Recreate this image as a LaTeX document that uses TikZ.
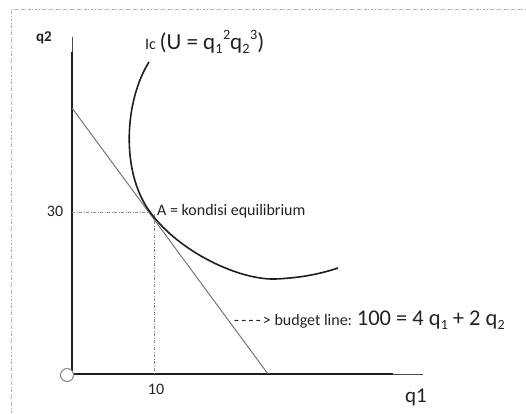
\documentclass[tikz,border=0pt]{standalone}
\usepackage{fontspec}
\setmainfont{Carlito}
\usepackage{graphicx}
\newcommand\lsub[1]{\raisebox{-0.35ex}{\scalebox{0.62}{#1}}}
\newcommand\lsup[1]{\raisebox{0.95ex}{\scalebox{0.62}{#1}}}
\definecolor{txt}{HTML}{222222}
\definecolor{axis}{HTML}{1E1E1E}
\definecolor{bline}{HTML}{6A6A6A}
\definecolor{guide}{HTML}{8C8C8C}
\definecolor{frame}{HTML}{AFAFAF}
\tikzset{
  lbl/.style={inner sep=0pt, text=txt, font=\fontsize{16}{19}\selectfont},
  biglbl/.style={inner sep=0pt, text=txt, font=\fontsize{21}{25}\selectfont},
  axisthick/.style={draw=axis, line width=1.6pt},
  axisthin/.style={draw=axis!80, line width=0.8pt},
  budget/.style={draw=bline, line width=0.9pt},
  icurve/.style={draw=axis, line width=1.6pt},
  guideline/.style={draw=guide, line width=0.7pt, dash pattern=on 3pt off 1.5pt on 1pt off 1.5pt},
  framestyle/.style={draw=frame, line width=0.8pt, dash pattern=on 3pt off 1.5pt on 1pt off 1.5pt},
}
\begin{document}
\begin{tikzpicture}[x=1pt,y=-1pt]
\useasboundingbox (0,0) rectangle (526,413);
\fill[white] (0,0) rectangle (526,413);
% frame (top and left visible)
\coordinate (f1) at (11,9.5);
\coordinate (f2) at (526,9.5);
\coordinate (f3) at (11,413);
\draw[framestyle] (f3) -- (f1) -- (f2);
% axes
\coordinate (O) at (72,374);
\coordinate (ytop) at (72,37);
\coordinate (ymid) at (72,52);
\coordinate (xmid) at (393,374);
\coordinate (xend) at (423,374);
\draw[axisthin] (ytop) -- (ymid);
\draw[axisthick] (ymid) -- (O) -- (xmid);
\draw[axisthin] (xmid) -- (xend);
% budget line
\coordinate (b1) at (72,108);
\coordinate (b2) at (268,374);
\draw[budget] (b1) -- (b2);
% equilibrium point and guides
\coordinate (A) at (150,212);
\coordinate (y30) at (72,212.5);
\coordinate (g30) at (150,212.5);
\coordinate (v10) at (154,214);
\coordinate (x10) at (154,374);
\draw[guideline] (y30) -- (g30);
\draw[guideline] (v10) -- (x10);
% indifference curve
\coordinate (ic0) at (149,62);
\coordinate (icb) at (275,279);
\coordinate (ic1) at (338,268);
\draw[icurve] (ic0) .. controls (125,100) and (120,171) .. (A)
  .. controls (180,253) and (240,280) .. (icb)
  .. controls (300,278) and (320,274) .. (ic1);
% origin circle
\node[circle, draw=guide, fill=white, line width=1.1pt, minimum size=13pt, inner sep=0pt] (orig) at (67,375) {};
% labels
\node[lbl, font=\fontsize{15}{18}\selectfont\bfseries] (q2) at (44,38) {q2};
\node[biglbl] (q1) at (416,397) {q1};
\node[lbl] (t30) at (55,211) {30};
\node[lbl] (t10) at (156,389) {10};
\node[lbl, anchor=west] (Alab) at (157,211) {A = kondisi equilibrium};
\node[lbl, anchor=west] (blab) at (234,320) {-\kern2.3pt-\kern2.3pt-\kern2.3pt-\kern2.3pt> budget line: {\fontsize{22.5}{26}\selectfont 100 = 4 q\lsub{1} + 2 q\lsub{2}}};
\node[lbl, anchor=west] (iclab) at (145,42) {{\fontsize{16}{18}\selectfont Ic} {\fontsize{23}{27}\selectfont (U = q\lsub{1}\kern0.5pt\lsup{2}q\lsub{2}\kern0.5pt\lsup{3})}};
\end{tikzpicture}
\end{document}
